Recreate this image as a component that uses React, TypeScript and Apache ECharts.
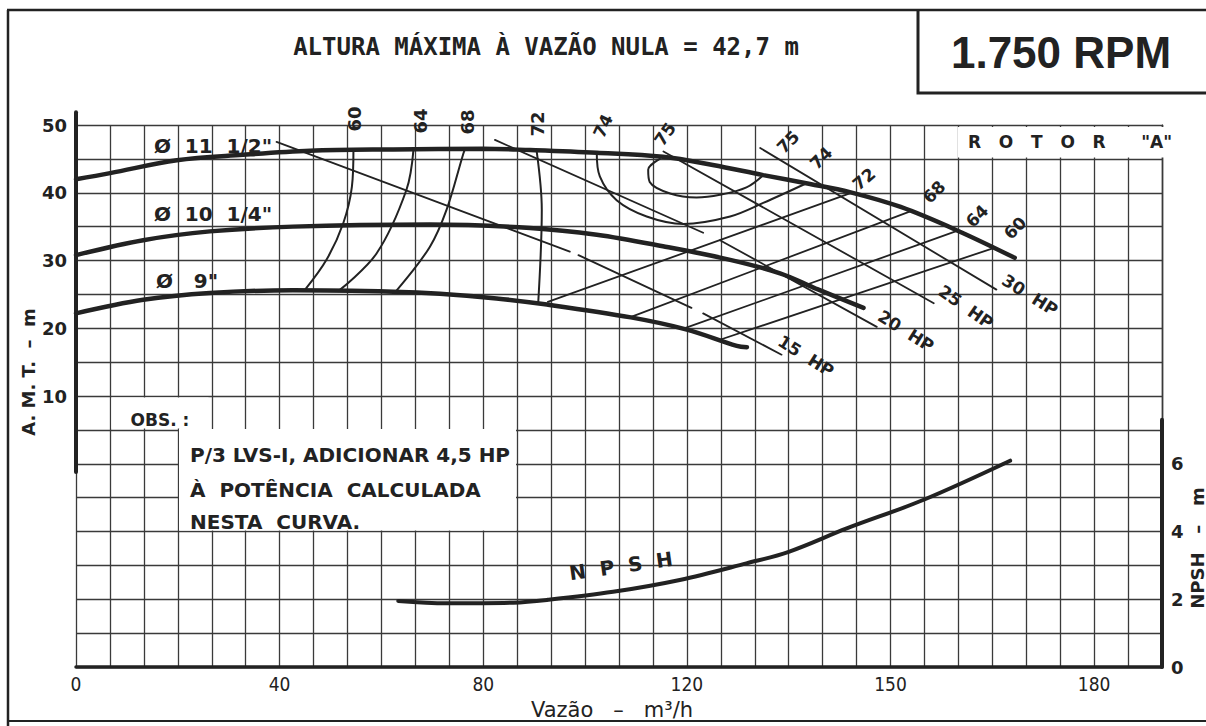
import React, { useEffect, useRef } from "react";
import * as echarts from "echarts";

// ---- axis ticks ----
const xTickLabels = ["0", "40", "80", "120", "150", "180"];
const amtTickLabels = [10, 20, 30, 40, 50];
const npshTickLabels = [0, 2, 4, 6];
const xMinorStep = 40 / 6;
const xMax = (40 / 6) * 32;

// ---- impeller curves: [flow, AMT m] ----
const impeller115 = [[0, 42.0], [6.7, 42.9], [19.8, 44.8], [32.8, 45.6], [46, 46.2], [62.3, 46.4], [80, 46.5], [89.2, 46.3], [102.3, 45.9], [115.3, 45.3], [125.1, 44.1], [135, 42.6], [144.2, 41.3], [152, 40.1], [162, 37.9], [173.2, 34.4], [184.4, 30.4]];
const impeller1025 = [[0, 30.8], [13.2, 33.0], [26.3, 34.3], [42.6, 35.0], [69.5, 35.3], [89.2, 34.8], [102.3, 33.8], [115.3, 32.1], [128.5, 30.1], [138.3, 28.1], [145.5, 25.8], [154.7, 23.0]];
const impeller9 = [[0, 22.2], [13.2, 24.2], [26.3, 25.2], [42.6, 25.6], [62.3, 25.4], [71.5, 25.1], [82.6, 24.4], [92.5, 23.5], [109, 21.6], [120, 19.8], [129.8, 17.4], [131.8, 17.2]];

// ---- efficiency curves ----
const eff60L = [[45, 25.7], [49.2, 30.1], [52.5, 35.5], [54.2, 40.9], [54.5, 46.3]];
const eff64L = [[51.9, 25.7], [59.1, 31.1], [64.9, 40.4], [66.3, 46.4]];
const eff68L = [[63, 25.6], [69.5, 32], [72.8, 37.5], [76.1, 45.8], [76.5, 46.6]];
const eff72L = [[90.8, 23.8], [91.5, 37.5], [90.5, 46.1]];
const eff74 = [[102.3, 45.9], [102.9, 42.4], [106.2, 38.9], [112.1, 36.5], [119.3, 35.4], [128.5, 36.5], [135, 38.5], [143.5, 41.4]];
const eff75 = [[114.7, 45.0], [112.4, 43.4], [112.7, 41.6], [116.7, 39.9], [121.9, 39.3], [126.5, 39.7], [131.7, 40.8], [135, 42.6]];
const eff72R = [[92.7, 23.9], [152.0, 39.9]];
const eff68R = [[108.8, 21.6], [164, 37.3]];
const eff64R = [[119.2, 19.9], [173.2, 34.4]];
const eff60R = [[126.5, 18.3], [180.1, 31.8]];

// ---- power lines (drawn in pieces, as in the original) ----
const hp15 = [
  [[39.4, 47.5], [97.0, 31.3]],
  [[98.7, 30.8], [120.9, 23.0]],
  [[123.2, 22.2], [138.6, 16.1]],
];
const hp20 = [
  [[82.3, 47.8], [123.2, 34.1]],
  [[126.5, 33.0], [157.3, 20.2]],
];
const hp25 = [[[115.4, 46.1], [168.5, 23.7]]];
const hp30 = [[[134.4, 46.6], [180.8, 25.7]]];

// ---- NPSH: [flow, NPSH m] ----
const npsh = [[63.3, 1.95], [72.8, 1.88], [85.9, 1.9], [92.5, 1.98], [105.5, 2.22], [118.6, 2.57], [131.7, 3.06], [140, 3.4], [151.4, 4.09], [166.4, 4.93], [183.5, 6.09]];

// ---- axis spans drawn heavy ----
const amtAxisSpan = [51.9, -1.2];
const npshAxisSpan = [0, 7.3];

const INK = "#222222";
const GRIDC = "#3a3a3a";
const BOLD = "'DejaVu Sans', 'Noto Sans', sans-serif";
const NARROW = "'Liberation Sans Narrow', 'DejaVu Sans Condensed', 'DejaVu Sans', sans-serif";

function txt(text: string, x: number, y: number, size: number, opts: any = {}) {
  return {
    type: "text",
    x,
    y,
    rotation: opts.rotation || 0,
    z: 10,
    style: {
      text,
      fill: INK,
      fontSize: size,
      fontFamily: opts.family || BOLD,
      fontWeight: opts.weight || "bold",
      align: opts.align || "center",
      verticalAlign: "middle",
    },
  };
}

function lineSeries(data: number[][], width: number, opts: any = {}) {
  return {
    type: "line",
    data,
    yAxisIndex: opts.yAxisIndex || 0,
    symbol: "none",
    smooth: opts.smooth === undefined ? 0.35 : opts.smooth,
    clip: opts.clip === undefined ? true : opts.clip,
    lineStyle: { color: INK, width, cap: "round" },
    z: opts.z || 3,
    silent: true,
  };
}

export default function App() {
  const ref = useRef<HTMLDivElement>(null);
  useEffect(() => {
    const chart = echarts.init(ref.current!, null, { renderer: "svg" });
    const deg = Math.PI / 180;
    const powerSeries = [hp15, hp20, hp25, hp30].flatMap((segs) =>
      segs.map((seg) => lineSeries(seg, 1.8, { smooth: false }))
    );
    const option: any = {
      animation: false,
      backgroundColor: "#ffffff",
      grid: { left: 76, top: 125, width: 1086, height: 542 },
      xAxis: {
        type: "value",
        min: 0,
        max: xMax,
        interval: xMinorStep,
        axisLine: { show: true, onZero: false, lineStyle: { color: INK, width: 3.5 } },
        axisTick: { show: false },
        splitLine: { show: true, lineStyle: { color: GRIDC, width: 1.3 } },
        axisLabel: {
          margin: 7,
          color: INK,
          fontSize: 19,
          fontFamily: NARROW,
          formatter: (v: number) => {
            const k = Math.round(v / xMinorStep);
            return k % 6 === 0 && k / 6 < xTickLabels.length ? xTickLabels[k / 6] : "";
          },
        },
      },
      yAxis: [
        {
          type: "value",
          min: -30,
          max: 50,
          interval: 5,
          position: "left",
          axisLine: { show: false },
          axisTick: { show: false },
          splitLine: { show: true, lineStyle: { color: GRIDC, width: 1.3 } },
          axisLabel: {
            margin: 9,
            color: INK,
            fontSize: 18,
            fontWeight: "bold",
            fontFamily: BOLD,
            formatter: (v: number) => (amtTickLabels.indexOf(v) >= 0 ? String(v) : ""),
          },
        },
        {
          type: "value",
          min: 0,
          max: 16,
          interval: 2,
          position: "right",
          axisLine: { show: true, onZero: false, lineStyle: { color: GRIDC, width: 1.3 } },
          axisTick: { show: false },
          splitLine: { show: false },
          axisLabel: {
            margin: 9,
            color: INK,
            fontSize: 18,
            fontWeight: "bold",
            fontFamily: BOLD,
            formatter: (v: number) => (npshTickLabels.indexOf(v) >= 0 ? String(v) : ""),
          },
        },
      ],
      series: [
        lineSeries(impeller115, 4.5, { z: 4 }),
        lineSeries(impeller1025, 4.5, { z: 4 }),
        lineSeries(impeller9, 4.5, { z: 4 }),
        lineSeries(eff60L, 2),
        lineSeries(eff64L, 2),
        lineSeries(eff68L, 2),
        lineSeries(eff72L, 2),
        lineSeries(eff74, 2),
        lineSeries(eff75, 2),
        lineSeries(eff72R, 1.8, { smooth: false }),
        lineSeries(eff68R, 1.8, { smooth: false }),
        lineSeries(eff64R, 1.8, { smooth: false }),
        lineSeries(eff60R, 1.8, { smooth: false }),
        ...powerSeries,
        lineSeries(npsh, 4, { yAxisIndex: 1, z: 4 }),
        lineSeries([[0, amtAxisSpan[0]], [0, amtAxisSpan[1]]], 4, { smooth: false, clip: false, z: 5 }),
        lineSeries([[xMax, npshAxisSpan[0]], [xMax, npshAxisSpan[1]]], 4, { yAxisIndex: 1, smooth: false, clip: false, z: 5 }),
      ],
      graphic: {
        elements: [
          // frame
          { type: "line", z: 10, shape: { x1: 7, y1: 10, x2: 1206, y2: 10 }, style: { stroke: INK, lineWidth: 2.5 } },
          { type: "line", z: 10, shape: { x1: 8, y1: 10, x2: 8, y2: 726 }, style: { stroke: INK, lineWidth: 2.5 } },
          { type: "line", z: 10, shape: { x1: 8, y1: 721, x2: 1206, y2: 721 }, style: { stroke: INK, lineWidth: 2 } },
          { type: "polyline", z: 10, shape: { points: [[918, 10], [918, 93], [1206, 93]] }, style: { stroke: INK, lineWidth: 3, fill: null } },
          // white patches
          { type: "rect", z: 1, shape: { x: 958, y: 127, width: 215, height: 30.5 }, style: { fill: "#ffffff" } },
          { type: "rect", z: 1, shape: { x: 111.5, y: 397.5, width: 97, height: 31 }, style: { fill: "#ffffff" } },
          { type: "rect", z: 1, shape: { x: 179, y: 429, width: 337, height: 101.5 }, style: { fill: "#ffffff" } },
          // titles
          txt("ALTURA MÁXIMA À VAZÃO NULA = 42,7 m", 546, 47, 24, { family: "'DejaVu Sans Mono', monospace" }),
          txt("1.750 RPM", 1061, 52, 44, { family: "'Liberation Sans', Arial, sans-serif" }),
          txt("R   O   T   O   R      \"A\"", 968, 142, 17, { align: "left" }),
          // axis names
          txt("A. M. T.  –  m", 28, 372, 18, { rotation: 90 * deg }),
          txt("NPSH   –   m", 1197, 548, 18, { rotation: 90 * deg }),
          txt("Vazão   –   m³/h", 612, 710, 21, { weight: "normal" }),
          // impeller labels
          txt("Ø  11  1/2\"", 213, 146, 20),
          txt("Ø  10  1/4\"", 213, 214, 20),
          txt("Ø   9\"", 187, 281, 20),
          // efficiency labels
          txt("60", 354, 119, 18, { rotation: 90 * deg }),
          txt("64", 420, 121, 18, { rotation: 90 * deg }),
          txt("68", 467, 122, 18, { rotation: 90 * deg }),
          txt("72", 537, 124, 18, { rotation: 90 * deg }),
          txt("74", 603, 126, 17, { rotation: 65 * deg }),
          txt("75", 665, 134, 17, { rotation: 55 * deg }),
          txt("75", 788, 142, 17, { rotation: 45 * deg }),
          txt("74", 821, 158, 17, { rotation: 45 * deg }),
          txt("72", 864, 179, 17, { rotation: 40 * deg }),
          txt("68", 934, 192, 17, { rotation: 45 * deg }),
          txt("64", 977, 216, 17, { rotation: 45 * deg }),
          txt("60", 1015, 228, 17, { rotation: 45 * deg }),
          // power labels
          txt("15  HP", 806, 356, 17, { rotation: -32 * deg }),
          txt("20  HP", 906, 331, 17, { rotation: -32 * deg }),
          txt("25  HP", 966, 307, 17, { rotation: -35 * deg }),
          txt("30  HP", 1030, 295, 17, { rotation: -32 * deg }),
          // NPSH label
          txt("N  P  S  H", 621, 566, 20, { rotation: 8 * deg }),
          // OBS
          txt("OBS. :", 160, 420, 17),
          txt("P/3 LVS-I, ADICIONAR 4,5 HP", 190, 455, 20, { align: "left" }),
          txt("À  POTÊNCIA  CALCULADA", 190, 490, 20, { align: "left" }),
          txt("NESTA  CURVA.", 190, 522, 20, { align: "left" }),
        ],
      },
    };
    chart.setOption(option);
    return () => chart.dispose();
  }, []);
  return (
    <div
      ref={ref}
      style={{ position: "fixed", left: 0, top: 0, width: 1206, height: 726, background: "#fff" }}
    />
  );
}
